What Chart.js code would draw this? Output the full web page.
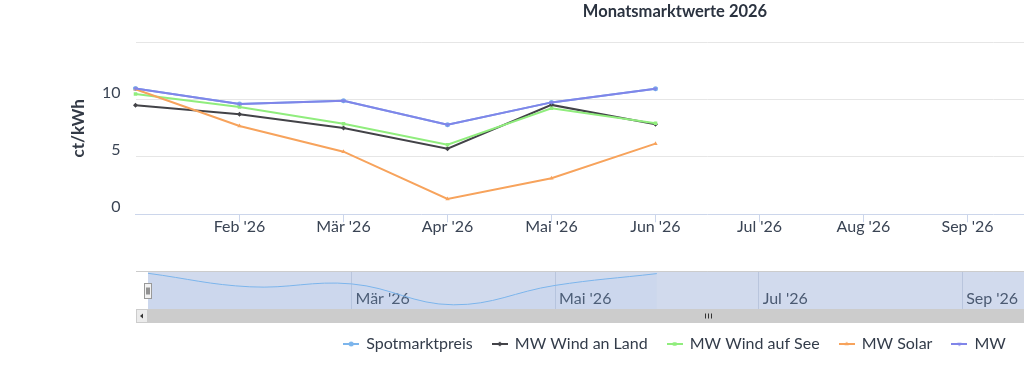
<!DOCTYPE html>
<html><head><meta charset="utf-8">
<script src="https://cdn.jsdelivr.net/npm/chart.js@4.4.1/dist/chart.umd.min.js"></script>
<style>
html,body{margin:0;padding:0;background:#fff;overflow:hidden;width:1024px;height:384px;}
#wrap{position:relative;width:1024px;height:384px;overflow:hidden;}
#c1{position:absolute;left:0;top:0;}
#c2{position:absolute;left:0;top:262px;}
</style></head><body>
<div id="wrap">
<canvas id="c1" width="1350" height="384"></canvas>
<canvas id="c2" width="1350" height="64"></canvas>
</div>
<script>
// ---- data ----
const months = ["Jan '26","Feb '26","Mär '26","Apr '26","Mai '26","Jun '26","Jul '26","Aug '26","Sep '26","Okt '26","Nov '26","Dez '26"];
const seriesNames = ['Spotmarktpreis','MW Wind an Land','MW Wind auf See','MW Solar','MW'];
const spotValues     = [10.97, 9.62, 9.91, 7.82, 9.76, 10.94];
const windLandValues = [9.51, 8.72, 7.53, 5.72, 9.54, 7.85];
const windSeeValues  = [10.50, 9.36, 7.90, 6.07, 9.25, 7.94];
const solarValues    = [10.90, 7.70, 5.46, 1.34, 3.14, 6.16];
const mwValues       = [10.97, 9.62, 9.91, 7.82, 9.76, 10.94];
const yTicks = [0, 5, 10, 15];

// ---- styles ----
const FONT = "Lato";
Chart.defaults.font.family = FONT;
const colors = ['#7cb5ec', '#434348', '#90ed7d', '#f7a35c', '#8085e9'];
const markers = [['circle',0],['rectRot',0],['rect',0],['triangle',0],['triangle',180]];
const seriesValues = [spotValues, windLandValues, windSeeValues, solarValues, mwValues];
const toPoints = vals => vals.map((v, i) => ({x: i, y: v}));

function makeSymbol(color, style, rot) {
  const c = document.createElement('canvas');
  c.width = 16; c.height = 8;
  const g = c.getContext('2d');
  g.strokeStyle = color; g.lineWidth = 2;
  g.beginPath(); g.moveTo(0, 4); g.lineTo(16, 4); g.stroke();
  g.fillStyle = color;
  Chart.helpers.drawPoint(g, {pointStyle: style, radius: 2.5, rotation: rot, borderWidth: 0}, 8, 4);
  return c;
}
const symbols = colors.map((c, i) => makeSymbol(c, markers[i][0], markers[i][1]));

const n = seriesNames.length;
const datasets = seriesNames.map((name, i) => ({
  label: name,
  data: toPoints(seriesValues[i]),
  borderColor: colors[i],
  backgroundColor: colors[i],
  pointBackgroundColor: colors[i],
  pointBorderColor: colors[i],
  pointBorderWidth: 0,
  pointRadius: 2.5,
  pointStyle: markers[i][0],
  pointRotation: markers[i][1],
  borderWidth: 2,
  tension: 0,
  clip: 6,
  order: n - 1 - i
}));

const labelColor = '#3a4454';

new Chart(document.getElementById('c1'), {
  type: 'line',
  data: {datasets},
  options: {
    responsive: false, animation: false, events: [],
    layout: {padding: {left: 70.5, right: 70.5, top: 0, bottom: 22}},
    plugins: {
      tooltip: {enabled: false},
      title: {display: true, text: 'Monatsmarktwerte 2026', color: '#2b3340',
        font: {family: FONT, size: 16.5, weight: 'bold'}, padding: {top: 1.5, bottom: 21}},
      legend: {
        position: 'bottom', align: 'center',
        labels: {
          font: {family: FONT, size: 16}, color: '#333c4a',
          usePointStyle: true, boxWidth: 14, padding: 20,
          generateLabels: chart => chart.data.datasets.map((ds, i) => ({
            text: ds.label, fillStyle: ds.borderColor, strokeStyle: ds.borderColor,
            fontColor: '#333c4a', lineWidth: 0, pointStyle: symbols[i], datasetIndex: i, hidden: false
          }))
        }
      }
    },
    scales: {
      x: {
        type: 'linear', min: 0, max: months.length - 1,
        afterBuildTicks: a => { a.ticks = months.map((m, i) => ({value: i})); },
        afterFit: a => { a.height = 101.7; },
        grid: {drawOnChartArea: false, drawTicks: true, tickLength: 8,
          color: c => c.index === 0 ? 'rgba(0,0,0,0)' : '#ccd6eb'},
        border: {display: true, color: '#ccd6eb', width: 1},
        ticks: {autoSkip: false, maxRotation: 0, padding: -5, color: labelColor,
          font: {family: FONT, size: 16},
          callback: v => v >= 1 ? months[v] : ''}
      },
      y: {
        min: 0, max: 15,
        afterBuildTicks: a => { a.ticks = yTicks.map(v => ({value: v})); },
        afterFit: a => { a.width = 65; },
        grid: {drawTicks: false, color: c => c.tick && c.tick.value === 0 ? 'rgba(0,0,0,0)' : '#e6e6e6'},
        border: {display: false},
        ticks: {padding: 15, labelOffset: -7, color: labelColor, font: {family: FONT, size: 16},
          callback: v => v === 15 ? '' : String(v)},
        title: {display: true, text: 'ct/kWh', color: '#333a46',
          font: {family: FONT, size: 17, weight: 'bold'}, padding: {top: -1.7, bottom: 0}}
      }
    }
  }
});

// ---- navigator ----
const navPlugin = {
  id: 'navDecor',
  beforeDraw(chart) {
    const {ctx, chartArea: a} = chart;
    ctx.save();
    ctx.fillStyle = 'rgba(102,133,194,0.3)';
    ctx.fillRect(a.left, a.top, a.right - a.left, a.bottom - a.top);
    ctx.restore();
  },
  afterDraw(chart) {
    const {ctx, chartArea: a} = chart;
    const sbL = a.left - 12, sbR = a.right + 12, sbT = a.bottom, sbH = 14;
    ctx.save();
    ctx.strokeStyle = '#cccccc'; ctx.lineWidth = 1;
    ctx.beginPath(); ctx.moveTo(sbL, Math.round(a.top) + 0.5); ctx.lineTo(sbR, Math.round(a.top) + 0.5); ctx.stroke();
    ctx.fillStyle = '#cccccc';
    ctx.fillRect(a.left, sbT, a.right - a.left, sbH);
    [[sbL, -1], [a.right, 1]].forEach(([bx, dir]) => {
      ctx.fillStyle = '#ebebeb';
      ctx.fillRect(bx, sbT, 12, sbH);
      ctx.strokeStyle = '#cccccc';
      ctx.strokeRect(bx + 0.5, sbT + 0.5, 11, sbH - 1);
      ctx.fillStyle = '#333333';
      const cx = bx + 6, cy = sbT + sbH / 2;
      ctx.beginPath();
      ctx.moveTo(cx + dir * 2, cy); ctx.lineTo(cx - dir * 1, cy - 2.5); ctx.lineTo(cx - dir * 1, cy + 2.5); ctx.closePath(); ctx.fill();
    });
    const gx = Math.round((a.left + a.right) / 2);
    ctx.strokeStyle = '#333333'; ctx.lineWidth = 1;
    [-3, 0, 3].forEach(d => { ctx.beginPath(); ctx.moveTo(gx + d + 0.5, sbT + 4.5); ctx.lineTo(gx + d + 0.5, sbT + 9.5); ctx.stroke(); });
    [a.left, a.right].forEach(hx => {
      const x0 = Math.round(hx) - 3.5, y0 = Math.round(a.top + (a.bottom - a.top) / 2 - 7.5) + 0.5;
      ctx.fillStyle = '#f2f2f2'; ctx.fillRect(x0, y0, 7, 15);
      ctx.strokeStyle = '#999999'; ctx.strokeRect(x0, y0, 7, 15);
      ctx.strokeStyle = '#333333';
      [2.5, 4.5].forEach(d => { ctx.beginPath(); ctx.moveTo(x0 + d, y0 + 4); ctx.lineTo(x0 + d, y0 + 11); ctx.stroke(); });
    });
    ctx.restore();
  }
};

new Chart(document.getElementById('c2'), {
  type: 'line',
  data: {datasets: [{
    data: toPoints(spotValues), borderColor: '#7cb5ec', borderWidth: 1, pointRadius: 0,
    tension: 0.4, fill: 'start', backgroundColor: 'rgba(124,181,236,0.05)'
  }]},
  options: {
    responsive: false, animation: false, events: [],
    layout: {padding: {left: 148, right: 82.5, top: 9, bottom: 3}},
    plugins: {legend: {display: false}, title: {display: false}, tooltip: {enabled: false}},
    scales: {
      x: {
        type: 'linear', min: 0, max: months.length - 1,
        afterBuildTicks: a => { a.ticks = months.map((m, i) => ({value: i})); },
        afterFit: a => { a.height = 14; },
        grid: {drawTicks: false, color: c => (c.index % 2 === 0 && c.index > 0) ? 'rgba(140,158,192,0.35)' : 'rgba(0,0,0,0)'},
        border: {display: false},
        ticks: {autoSkip: false, maxRotation: 0, align: 'start', mirror: true, padding: 0.5, labelOffset: 4,
          color: '#4b5a72', font: {family: FONT, size: 16},
          callback: v => (v % 2 === 0 && v > 0) ? months[v] : ''}
      },
      y: {display: false, min: 7.4, max: 11.2}
    }
  },
  plugins: [navPlugin]
});
</script>
</body></html>
